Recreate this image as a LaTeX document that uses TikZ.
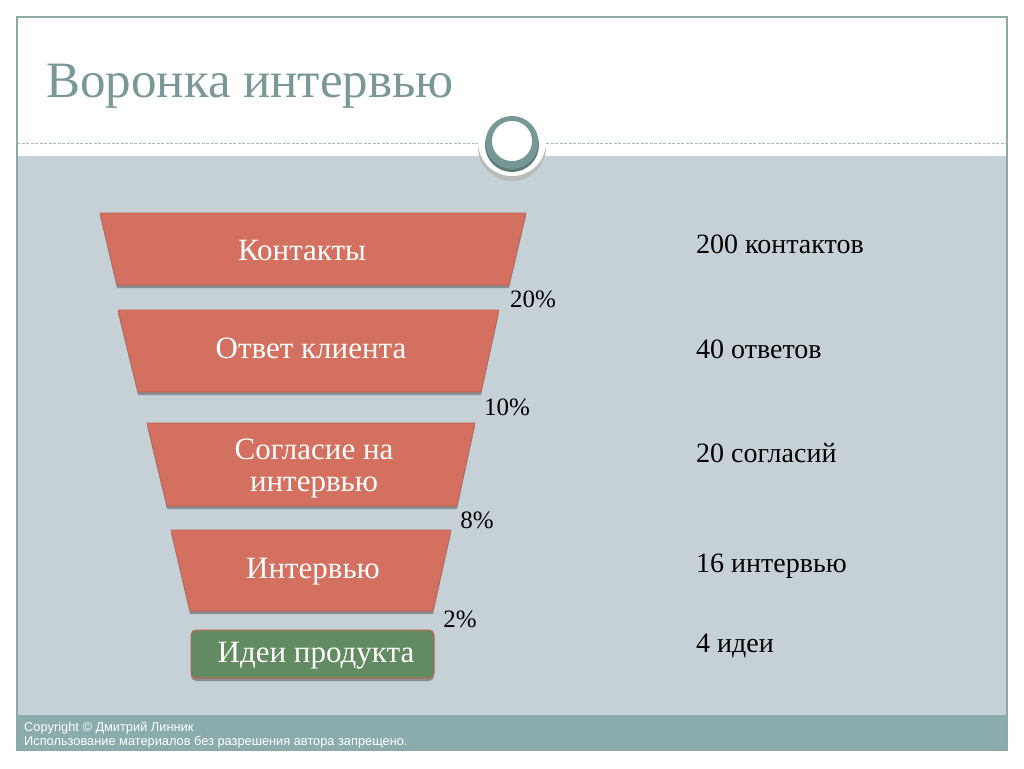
\documentclass[tikz,border=0pt]{standalone}
\usepackage{fontspec}
\setmainfont{Liberation Serif}
\newfontfamily\footfont{Liberation Sans}
\definecolor{bandc}{HTML}{C5D1D7}
\definecolor{footc}{HTML}{8AACAC}
\definecolor{framec}{HTML}{8FA8A8}
\definecolor{dashc}{HTML}{A9BABA}
\definecolor{titlec}{HTML}{7A9898}
\definecolor{ringc}{HTML}{779797}
\definecolor{trapfill}{HTML}{D4705F}
\definecolor{trapedge}{HTML}{C0604F}
\definecolor{shadowc}{HTML}{8A8E90}
\definecolor{greenc}{HTML}{628B61}
\begin{document}
\begin{tikzpicture}[x=1pt,y=-1pt,
  funnel/.style={fill=trapfill, draw=trapedge, line width=0.6pt},
  shade/.style={fill=shadowc},
  ftext/.style={text=white, anchor=base, inner sep=0pt, font=\fontsize{31}{32}\selectfont},
  pct/.style={text=black, anchor=base, inner sep=0pt, font=\fontsize{25}{26}\selectfont},
  rlabel/.style={text=black, anchor=base west, inner sep=0pt, font=\fontsize{28}{30}\selectfont},
  foot/.style={text=white, anchor=base west, inner sep=0pt, font=\footfont\fontsize{12.8}{14}\selectfont}]
\useasboundingbox (0,0) rectangle (1024,768);
\fill[white] (0,0) rectangle (1024,768);
% background bands
\fill[bandc] (17,156) rectangle (1007,715);
\fill[footc] (17,715) rectangle (1007,750);
\draw[framec, line width=1.2pt] (17,17) rectangle (1007,750);
\draw[dashc, line width=1pt, dash pattern=on 3pt off 1.5pt] (17,143) -- (478,143);
\draw[dashc, line width=1pt, dash pattern=on 3pt off 1.5pt] (546,143) -- (1007,143);
% circle ornament
\fill[shadowc!60] (512,147) circle (34);
\fill[white] (512,142) circle (34);
\fill[ringc!80!black] (512,145) circle (27);
\fill[ringc] (512,142.5) circle (26.5);
\fill[white] (512,141) circle (20);
% title
\node[anchor=base west, inner sep=0pt, text=titlec, font=\fontsize{51}{56}\selectfont] (title) at (46,97) {Воронка интервью};
% funnel shapes
\fill[shade] (100,216)--(526,216)--(509,288)--(117,288)--cycle;
\filldraw[funnel] (100,213)--(526,213)--(509,285)--(117,285)--cycle;
\fill[shade] (118,313)--(499,313)--(481,395)--(138,395)--cycle;
\filldraw[funnel] (118,310)--(499,310)--(481,392)--(138,392)--cycle;
\fill[shade] (147,426)--(475,426)--(457,509)--(167,509)--cycle;
\filldraw[funnel] (147,423)--(475,423)--(457,506)--(167,506)--cycle;
\fill[shade] (171,533)--(451,533)--(433,614)--(190,614)--cycle;
\filldraw[funnel] (171,530)--(451,530)--(433,611)--(190,611)--cycle;
\fill[shade, rounded corners=5pt] (191,633) rectangle (434,681);
\filldraw[fill=greenc, draw=trapedge, line width=1pt, rounded corners=5pt] (191,630) rectangle (434,678);
% funnel texts
\node[ftext] (t1) at (302,260) {Контакты};
\node[ftext] (t2) at (311,358) {Ответ клиента};
\node[ftext, anchor=center, align=center] (t3) at (314,469) {Согласие на\\интервью};
\node[ftext] (t4) at (313,578) {Интервью};
\node[ftext] (t5) at (316,662) {Идеи продукта};
% percentages
\node[pct] (p1) at (533,307) {20\%};
\node[pct] (p2) at (507,415) {10\%};
\node[pct] (p3) at (477,528) {8\%};
\node[pct] (p4) at (460,627) {2\%};
% right labels
\node[rlabel] (r1) at (696,253) {200 контактов};
\node[rlabel] (r2) at (696,358) {40 ответов};
\node[rlabel] (r3) at (696,462) {20 согласий};
\node[rlabel] (r4) at (696,572) {16 интервью};
\node[rlabel] (r5) at (696,652) {4 идеи};
% footer
\node[foot] (f1) at (24,731) {Copyright © Дмитрий Линник};
\node[foot] (f2) at (24,745) {Использование материалов без разрешения автора запрещено.};
\end{tikzpicture}
\end{document}
